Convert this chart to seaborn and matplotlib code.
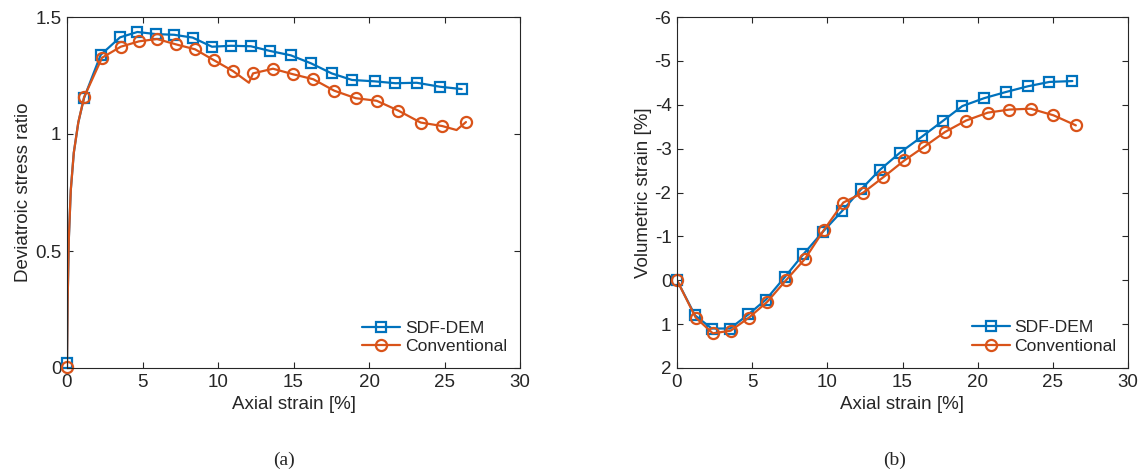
import numpy as np
import pandas as pd
import matplotlib
matplotlib.use("Agg")
import matplotlib.pyplot as plt
from matplotlib.lines import Line2D
import seaborn as sns

# ---------------- data ----------------
series_names = ["SDF-DEM", "Conventional"]

# (a) deviatoric stress ratio -- marker points
a_sdf_x = [0.0, 1.13, 2.23, 3.51, 4.66, 5.87, 7.09, 8.32, 9.60, 10.86, 12.17,
           13.44, 14.83, 16.16, 17.53, 18.87, 20.38, 21.74, 23.16, 24.70, 26.14]
a_sdf_y = [0.02, 1.154, 1.338, 1.413, 1.436, 1.427, 1.424, 1.412, 1.373, 1.377, 1.375,
           1.355, 1.336, 1.302, 1.259, 1.231, 1.225, 1.217, 1.219, 1.202, 1.192]
a_con_x = [0.0, 1.13, 2.32, 3.56, 4.77, 5.96, 7.22, 8.48, 9.74, 10.99, 12.32,
           13.64, 14.99, 16.31, 17.70, 19.12, 20.51, 21.94, 23.42, 24.85, 26.42]
a_con_y = [0.005, 1.157, 1.326, 1.373, 1.396, 1.406, 1.383, 1.362, 1.315, 1.269, 1.259,
           1.279, 1.255, 1.234, 1.185, 1.153, 1.142, 1.100, 1.049, 1.034, 1.051]
# extra curve points between markers (initial rise and dips)
a_rise_x = [0.04, 0.12, 0.25, 0.45, 0.75]
a_sdf_rise_y = [0.28, 0.55, 0.76, 0.92, 1.05]
a_con_rise_y = [0.28, 0.55, 0.76, 0.92, 1.05]
a_con_dip_x = [12.05, 25.80]
a_con_dip_y = [1.219, 1.017]

# (b) volumetric strain
b_sdf_x = [0.0, 1.20, 2.31, 3.53, 4.74, 5.92, 7.19, 8.40, 9.69, 10.96, 12.24,
           13.51, 14.84, 16.32, 17.68, 18.98, 20.43, 21.87, 23.33, 24.77, 26.30]
b_sdf_y = [0.0, 0.80, 1.10, 1.10, 0.78, 0.44, -0.08, -0.59, -1.10, -1.57, -2.07,
           -2.52, -2.91, -3.28, -3.63, -3.97, -4.15, -4.29, -4.42, -4.52, -4.54]
b_con_x = [0.0, 1.24, 2.38, 3.57, 4.79, 6.01, 7.25, 8.52, 9.78, 11.06, 12.40,
           13.73, 15.12, 16.43, 17.83, 19.23, 20.67, 22.11, 23.53, 25.04, 26.53]
b_con_y = [0.0, 0.85, 1.21, 1.15, 0.85, 0.49, 0.0, -0.49, -1.15, -1.77, -2.00,
           -2.35, -2.73, -3.04, -3.38, -3.64, -3.82, -3.89, -3.91, -3.76, -3.53]

x_ticks = [0, 5, 10, 15, 20, 25, 30]
a_yticks = [0, 0.5, 1, 1.5]
a_yticklabels = ["0", "0.5", "1", "1.5"]
b_yticks = [-6, -5, -4, -3, -2, -1, 0, 1, 2]
b_yticklabels = ["-6", "-5", "-4", "-3", "-2", "-1", "0", "1", "2"]

# ---------------- style ----------------
sns.set_style("ticks")
plt.rcParams["font.family"] = ["Liberation Sans", "DejaVu Sans"]
plt.rcParams["xtick.direction"] = "in"
plt.rcParams["ytick.direction"] = "in"

BLUE = "#0072BD"
ORANGE = "#D95319"
FS = 13.5
LW = 1.6


def build_curve(mx, my, ex, ey):
    df = pd.DataFrame({"x": list(mx) + list(ex), "y": list(my) + list(ey),
                       "m": [True] * len(mx) + [False] * len(ex)})
    return df.sort_values("x").reset_index(drop=True)


def draw(ax, df, color, marker, ms):
    sns.lineplot(data=df, x="x", y="y", ax=ax, color=color, lw=LW, sort=False,
                 estimator=None, legend=False)
    dm = df[df["m"]]
    sns.lineplot(data=dm, x="x", y="y", ax=ax, color=color, lw=0, sort=False,
                 estimator=None, legend=False, marker=marker, markersize=ms,
                 markerfacecolor="none", markeredgecolor=color, markeredgewidth=1.6,
                 clip_on=False)


fig = plt.figure(figsize=(11.46, 4.72), dpi=100)
W, H = 1146, 472
ax1 = fig.add_axes([67 / W, 1 - 368 / H, 453 / W, 351 / H])
ax2 = fig.add_axes([677 / W, 1 - 368 / H, 451 / W, 351 / H])

# (a)
df_a_sdf = build_curve(a_sdf_x, a_sdf_y, a_rise_x, a_sdf_rise_y)
df_a_con = build_curve(a_con_x, a_con_y, a_rise_x + a_con_dip_x, a_con_rise_y + a_con_dip_y)
draw(ax1, df_a_sdf, BLUE, "s", 7)
draw(ax1, df_a_con, ORANGE, "o", 8)
ax1.set_xlim(0, 30)
ax1.set_ylim(0, 1.5)
ax1.set_yticks(a_yticks)
ax1.set_yticklabels(a_yticklabels)
ax1.set_ylabel("Deviatroic stress ratio", fontsize=FS, labelpad=2)

# (b)
df_b_sdf = build_curve(b_sdf_x, b_sdf_y, [], [])
df_b_con = build_curve(b_con_x, b_con_y, [], [])
draw(ax2, df_b_sdf, BLUE, "s", 7)
draw(ax2, df_b_con, ORANGE, "o", 8)
ax2.set_xlim(0, 30)
ax2.set_ylim(2, -6)
ax2.set_yticks(b_yticks)
ax2.set_yticklabels(b_yticklabels)
ax2.set_ylabel("Volumetric strain [%]", fontsize=FS, labelpad=2)

handles = [Line2D([], [], color=BLUE, lw=LW, marker="s", ms=7, mfc="none", mew=1.6),
           Line2D([], [], color=ORANGE, lw=LW, marker="o", ms=8, mfc="none", mew=1.6)]

for ax, lx, ly in [(ax1, 0.651, 0.087), (ax2, 0.653, 0.089)]:
    ax.set_xticks(x_ticks)
    ax.set_xticklabels([str(t) for t in x_ticks])
    ax.set_xlabel("Axial strain [%]", fontsize=FS)
    ax.tick_params(labelsize=FS, top=True, right=True, length=4, width=0.8,
                   color="#262626", pad=4)
    for s in ax.spines.values():
        s.set_visible(True)
        s.set_linewidth(0.8)
        s.set_color("#262626")
    ax.legend(handles, series_names, loc="center left", bbox_to_anchor=(lx, ly),
              frameon=False, fontsize=12.6, borderpad=0, borderaxespad=0,
              handlelength=2.2, handletextpad=0.25, labelspacing=0.2, numpoints=1)

fig.text(284 / W, 1 - 460 / H, "(a)", ha="center", va="center",
         family=["Liberation Serif", "DejaVu Serif"], fontsize=14)
fig.text(895 / W, 1 - 460 / H, "(b)", ha="center", va="center",
         family=["Liberation Serif", "DejaVu Serif"], fontsize=14)

fig.savefig("out.png", dpi=100)
